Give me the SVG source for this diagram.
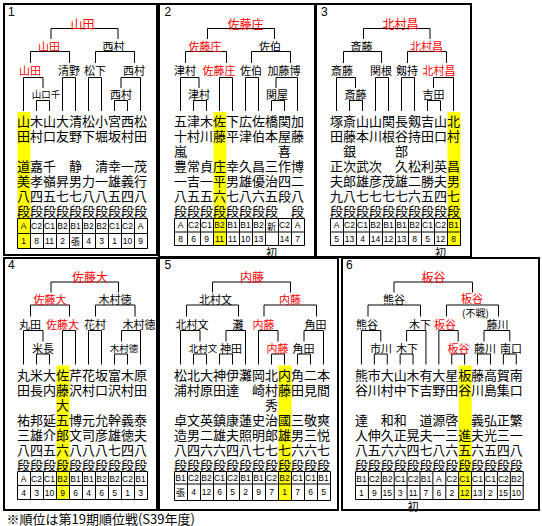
<svg xmlns="http://www.w3.org/2000/svg" width="542" height="526" viewBox="0 0 542 526">
<style>
.pb{fill:none;stroke:#000;stroke-width:2}
.ln{fill:none;stroke:#000;stroke-width:1}
.y{fill:#ff0}
text{font-family:"Noto Sans CJK JP","Noto Sans",sans-serif;text-anchor:middle;dominant-baseline:central;fill:#000}
.c{font-size:13px}
.t{font-size:12px}
.n{font-size:11px}
.s{font-size:9.5px}
.r{fill:#f00}
.k{font-family:"Liberation Sans",Arial,sans-serif;font-size:8.5px}
.kk{font-size:9px}
.nt{font-size:10px}
.num{font-family:"Liberation Sans",Arial,sans-serif;font-size:12px;text-anchor:start;dominant-baseline:auto}
.fn{font-size:13px;text-anchor:start;dominant-baseline:auto}
</style>
<rect width="542" height="526" fill="#fff"/>
<g id="highlights">
<rect class="y" x="17.5" y="112" width="13" height="136.5"/>
<rect class="y" x="213.5" y="112" width="13" height="133.5"/>
<rect class="y" x="447.5" y="112" width="13" height="133.5"/>
<rect class="y" x="56.5" y="365.5" width="13" height="134"/>
<rect class="y" x="278.5" y="365.5" width="13" height="135"/>
<rect class="y" x="458.7" y="365.5" width="12.9" height="134"/>
</g>
<g id="panel-borders">
<rect class="pb" x="4" y="4" width="153" height="251"/>
<rect class="pb" x="159" y="4" width="156" height="253"/>
<rect class="pb" x="316" y="4" width="155" height="253"/>
<rect class="pb" x="4" y="258" width="153" height="252"/>
<rect class="pb" x="159" y="258" width="179" height="252"/>
<rect class="pb" x="342" y="258" width="197" height="252"/>
</g>
<g id="connectors" class="ln">
<path d="M51 39V28.5H118V39 M30.5 63V51.5H69.5V63 M95.5 63V51.5H134.5V63 M23.5 111V77.5H43V88 M62.5 111V77.5H75.5V111 M88.5 111V77.5H101.5V111 M121 88V77.5H140.5V111 M36.5 111V100.5H49.5V111 M114.5 111V100.5H127.5V111"/>
<path d="M207.5 39V28.5H274.5V39 M185.5 63V51.5H226.5V63 M251.5 63V51.5H290.5V63 M180.5 111V77.5H199V88 M219.5 111V77.5H232.5V111 M245.5 111V77.5H258.5V111 M276 88V77.5H297.5V111 M193.5 111V100.5H206.5V111 M271.5 111V100.5H284.5V111"/>
<path d="M363.5 39V28.5H430V39 M343.5 63V51.5H381.5V63 M407.5 63V51.5H446.5V63 M336.5 111V77.5H355.5V88 M375.5 111V77.5H388.5V111 M401.5 111V77.5H414.5V111 M433.5 88V77.5H453.5V111 M349.5 111V100.5H362.5V111 M427.5 111V100.5H440.5V111"/>
<path d="M51 292.5V282H118.5V292.5 M30.5 316.5V305H69.5V316.5 M95.5 316.5V305H135V316.5 M23.5 364.5V330.5H43V341.5 M62.5 364.5V330.5H75.5V364.5 M88.5 364.5V330.5H101.5V364.5 M121.5 341.5V330.5H140.5V364.5 M36.5 364.5V354H49.5V364.5 M114.5 364.5V354H127.5V364.5"/>
<path d="M212.5 292.5V282H290.5V292.5 M186.5 316.5V305H238.5V316.5 M264 316.5V305H316.5V316.5 M180.5 364.5V330.5H200V341.5 M226 341.5V330.5H245.5V364.5 M258.5 364.5V330.5H278V341.5 M304 341.5V330.5H323.5V364.5 M193.5 364.5V354H206.5V364.5 M219.5 364.5V354H232.5V364.5 M271.5 364.5V354H284.5V364.5 M297.5 364.5V354H310.5V364.5"/>
<path d="M394 292.5V282H472.5V292.5 M368 316.5V305H420.5V316.5 M446.5 316.5V305H498.5V316.5 M361.45 364.5V330.5H380.8V341.5 M406.6 341.5V330.5H425.95V364.5 M438.85 364.5V330.5H458.2V341.5 M484 341.5V330.5H509.8V341.5 M374.35 364.5V354H387.25V364.5 M400.15 364.5V354H413.05V364.5 M451.75 364.5V354H464.65V364.5 M477.55 364.5V354H490.45V364.5 M503.35 364.5V354H516.25V364.5"/>
</g>
<g id="panel1">
<text class="num" x="8" y="15.5">1</text>
<g id="p1-final"><text class="t r" x="82.5" y="23">山田</text></g>
<g id="p1-semi-a"><text class="n r" x="49" y="45.5">山田</text></g>
<g id="p1-semi-b"><text class="n" x="113.5" y="45.5">西村</text></g>
<g id="p1-q1"><text class="n r" x="30" y="70">山田</text></g>
<g id="p1-q2"><text class="n" x="69" y="70">清野</text></g>
<g id="p1-q3"><text class="n" x="95" y="70">松下</text></g>
<g id="p1-q4"><text class="n" x="134" y="70">西村</text></g>
<g id="p1-r1"><text class="s" x="46" y="94">山口千</text></g>
<g id="p1-r2"><text class="n" x="121" y="94">西村</text></g>
<g id="p1-c1"><text class="c" x="23.5 23.5 23.5 23.5 23.5 23.5" y="120.5 135.5 165.5 180.5 195.5 210.5">山田道美八段</text></g>
<g id="p1-c2"><text class="c" x="36.5 36.5 36.5 36.5 36.5 36.5" y="120.5 135.5 165.5 180.5 195.5 210.5">木村嘉孝四段</text></g>
<g id="p1-c3"><text class="c" x="49.5 49.5 49.5 49.5 49.5 49.5" y="120.5 135.5 165.5 180.5 195.5 210.5">山口千嶺五段</text></g>
<g id="p1-c4"><text class="c" x="62.5 62.5 62.5 62.5 62.5" y="120.5 135.5 180.5 195.5 210.5">大友昇七段</text></g>
<g id="p1-c5"><text class="c" x="75.5 75.5 75.5 75.5 75.5 75.5" y="120.5 135.5 165.5 180.5 195.5 210.5">清野静男七段</text></g>
<g id="p1-c6"><text class="c" x="88.5 88.5 88.5 88.5 88.5" y="120.5 135.5 180.5 195.5 210.5">松下力八段</text></g>
<g id="p1-c7"><text class="c" x="101.5 101.5 101.5 101.5 101.5 101.5" y="120.5 135.5 165.5 180.5 195.5 210.5">小堀清一八段</text></g>
<g id="p1-c8"><text class="c" x="114.5 114.5 114.5 114.5 114.5 114.5" y="120.5 135.5 165.5 180.5 195.5 210.5">宮坂幸雄五段</text></g>
<g id="p1-c9"><text class="c" x="127.5 127.5 127.5 127.5 127.5 127.5" y="120.5 135.5 165.5 180.5 195.5 210.5">西村一義四段</text></g>
<g id="p1-c10"><text class="c" x="140.5 140.5 140.5 140.5 140.5 140.5" y="120.5 135.5 165.5 180.5 195.5 210.5">松田茂行八段</text></g>
<g id="p1-table">
<path class="ln" d="M17.5 218.5H147.5V248.5H17.5Z M17.5 233.5H147.5 M30.5 218.5V248.5 M43.5 218.5V248.5 M56.5 218.5V248.5 M69.5 218.5V248.5 M82.5 218.5V248.5 M95.5 218.5V248.5 M108.5 218.5V248.5 M121.5 218.5V248.5 M134.5 218.5V248.5"/>
<text class="k" y="226"><tspan x="23.5">A</tspan><tspan x="36.5">C2</tspan><tspan x="49.5">C1</tspan><tspan x="62.5">B2</tspan><tspan x="75.5">B1</tspan><tspan x="88.5">B2</tspan><tspan x="101.5">B2</tspan><tspan x="114.5">C1</tspan><tspan x="127.5">C2</tspan><tspan x="140.5">A</tspan></text>
<text class="k" y="241"><tspan x="23.5">1</tspan><tspan x="36.5">8</tspan><tspan x="49.5">11</tspan><tspan x="62.5">2</tspan><tspan x="88.5">4</tspan><tspan x="101.5">3</tspan><tspan x="114.5">1</tspan><tspan x="127.5">10</tspan><tspan x="140.5">9</tspan></text>
<text class="kk" x="75.5" y="241">張</text>
</g>
</g>
<g id="panel2">
<text class="num" x="164.5" y="15.5">2</text>
<g id="p2-final"><text class="t r" x="245.5" y="23">佐藤庄</text></g>
<g id="p2-semi-a"><text class="n r" x="205" y="45.5">佐藤庄</text></g>
<g id="p2-semi-b"><text class="n" x="270" y="45.5">佐伯</text></g>
<g id="p2-q1"><text class="n" x="185" y="70">津村</text></g>
<g id="p2-q2"><text class="n r" x="219" y="70">佐藤庄</text></g>
<g id="p2-q3"><text class="n" x="251" y="70">佐伯</text></g>
<g id="p2-q4"><text class="n" x="284" y="70">加藤博</text></g>
<g id="p2-r1"><text class="n" x="199" y="94">津村</text></g>
<g id="p2-r2"><text class="n" x="277" y="94">関屋</text></g>
<g id="p2-c1"><text class="c" x="180.5 180.5 180.5 180.5 180.5 180.5 180.5" y="120.5 135.5 150.5 165.5 180.5 195.5 210.5">五十嵐豊一八段</text></g>
<g id="p2-c2"><text class="c" x="193.5 193.5 193.5 193.5 193.5 193.5" y="120.5 135.5 165.5 180.5 195.5 210.5">津村常吉五段</text></g>
<g id="p2-c3"><text class="c" x="206.5 206.5 206.5 206.5 206.5 206.5" y="120.5 135.5 165.5 180.5 195.5 210.5">木川貞一五段</text></g>
<g id="p2-c4"><text class="c" x="219.5 219.5 219.5 219.5 219.5 219.5" y="120.5 135.5 165.5 180.5 195.5 210.5">佐藤庄平六段</text></g>
<g id="p2-c5"><text class="c" x="232.5 232.5 232.5 232.5 232.5 232.5" y="120.5 135.5 165.5 180.5 195.5 210.5">下平幸男七段</text></g>
<g id="p2-c6"><text class="c" x="245.5 245.5 245.5 245.5 245.5 245.5" y="120.5 135.5 165.5 180.5 195.5 210.5">広津久雄八段</text></g>
<g id="p2-c7"><text class="c" x="258.5 258.5 258.5 258.5 258.5 258.5" y="120.5 135.5 165.5 180.5 195.5 210.5">佐伯昌優六段</text></g>
<g id="p2-c8"><text class="c" x="271.5 271.5 271.5 271.5 271.5 271.5" y="120.5 135.5 165.5 180.5 195.5 210.5">橋本三治五段</text></g>
<g id="p2-c9"><text class="c" x="284.5 284.5 284.5 284.5 284.5 284.5 284.5" y="120.5 135.5 150.5 165.5 180.5 195.5 210.5">関屋喜作四段</text></g>
<g id="p2-c10"><text class="c" x="297.5 297.5 297.5 297.5 297.5 297.5" y="120.5 135.5 165.5 180.5 195.5 210.5">加藤博二八段</text></g>
<g id="p2-table">
<path class="ln" d="M174.5 218.5H304.5V245.5H174.5Z M174.5 232H304.5 M187.5 218.5V245.5 M200.5 218.5V245.5 M213.5 218.5V245.5 M226.5 218.5V245.5 M239.5 218.5V245.5 M252.5 218.5V245.5 M265.5 218.5V245.5 M278.5 218.5V245.5 M291.5 218.5V245.5"/>
<text class="k" y="225.3"><tspan x="180.5">A</tspan><tspan x="193.5">C2</tspan><tspan x="206.5">C1</tspan><tspan x="219.5">B2</tspan><tspan x="232.5">B1</tspan><tspan x="245.5">B1</tspan><tspan x="258.5">B2</tspan><tspan x="284.5">C2</tspan><tspan x="297.5">A</tspan></text>
<text class="kk" x="271.5" y="226.2">新</text>
<text class="k" y="238.8"><tspan x="180.5">8</tspan><tspan x="193.5">6</tspan><tspan x="206.5">9</tspan><tspan x="219.5">11</tspan><tspan x="232.5">11</tspan><tspan x="245.5">10</tspan><tspan x="258.5">13</tspan><tspan x="284.5">14</tspan><tspan x="297.5">7</tspan></text>
</g>
<g id="p2-note"><text class="n" x="271.5" y="251.5">初</text></g>
</g>
<g id="panel3">
<text class="num" x="321" y="15.5">3</text>
<g id="p3-final"><text class="t r" x="400.5" y="23">北村昌</text></g>
<g id="p3-semi-a"><text class="n" x="361.5" y="45.5">斎藤</text></g>
<g id="p3-semi-b"><text class="n r" x="426.5" y="45.5">北村昌</text></g>
<g id="p3-q1"><text class="n" x="342" y="70">斎藤</text></g>
<g id="p3-q2"><text class="n" x="381" y="70">関根</text></g>
<g id="p3-q3"><text class="n" x="407" y="70">剱持</text></g>
<g id="p3-q4"><text class="n r" x="439" y="70">北村昌</text></g>
<g id="p3-r1"><text class="n" x="355.5" y="94">斎藤</text></g>
<g id="p3-r2"><text class="n" x="433.5" y="94">吉田</text></g>
<g id="p3-c1"><text class="c" x="336.5 336.5 336.5 336.5 336.5 336.5" y="120.5 135.5 165.5 180.5 195.5 210.5">塚田正夫九段</text></g>
<g id="p3-c2"><text class="c" x="349.5 349.5 349.5 349.5 349.5 349.5 349.5" y="120.5 135.5 150.5 165.5 180.5 195.5 210.5">斎藤銀次郎八段</text></g>
<g id="p3-c3"><text class="c" x="362.5 362.5 362.5 362.5 362.5 362.5" y="120.5 135.5 165.5 180.5 195.5 210.5">山本武雄七段</text></g>
<g id="p3-c4"><text class="c" x="375.5 375.5 375.5 375.5 375.5 375.5" y="120.5 135.5 165.5 180.5 195.5 210.5">山川次彦七段</text></g>
<g id="p3-c5"><text class="c" x="388.5 388.5 388.5 388.5 388.5" y="120.5 135.5 180.5 195.5 210.5">関根茂七段</text></g>
<g id="p3-c6"><text class="c" x="401.5 401.5 401.5 401.5 401.5 401.5 401.5" y="120.5 135.5 150.5 165.5 180.5 195.5 210.5">長谷部久雄七段</text></g>
<g id="p3-c7"><text class="c" x="414.5 414.5 414.5 414.5 414.5 414.5" y="120.5 135.5 165.5 180.5 195.5 210.5">剱持松二六段</text></g>
<g id="p3-c8"><text class="c" x="427.5 427.5 427.5 427.5 427.5 427.5" y="120.5 135.5 165.5 180.5 195.5 210.5">吉田利勝五段</text></g>
<g id="p3-c9"><text class="c" x="440.5 440.5 440.5 440.5 440.5 440.5" y="120.5 135.5 165.5 180.5 195.5 210.5">山口英夫四段</text></g>
<g id="p3-c10"><text class="c" x="453.5 453.5 453.5 453.5 453.5 453.5" y="120.5 135.5 165.5 180.5 195.5 210.5">北村昌男七段</text></g>
<g id="p3-table">
<path class="ln" d="M330.5 218.5H460.5V245.5H330.5Z M330.5 232H460.5 M343.5 218.5V245.5 M356.5 218.5V245.5 M369.5 218.5V245.5 M382.5 218.5V245.5 M395.5 218.5V245.5 M408.5 218.5V245.5 M421.5 218.5V245.5 M434.5 218.5V245.5 M447.5 218.5V245.5"/>
<text class="k" y="225.3"><tspan x="336.5">A</tspan><tspan x="349.5">C2</tspan><tspan x="362.5">C1</tspan><tspan x="375.5">B2</tspan><tspan x="388.5">B1</tspan><tspan x="401.5">B1</tspan><tspan x="414.5">B2</tspan><tspan x="427.5">C1</tspan><tspan x="440.5">C2</tspan><tspan x="453.5">B1</tspan></text>
<text class="k" y="238.8"><tspan x="336.5">5</tspan><tspan x="349.5">13</tspan><tspan x="362.5">4</tspan><tspan x="375.5">14</tspan><tspan x="388.5">12</tspan><tspan x="401.5">13</tspan><tspan x="414.5">8</tspan><tspan x="427.5">5</tspan><tspan x="440.5">12</tspan><tspan x="453.5">8</tspan></text>
</g>
<g id="p3-note"><text class="n" x="440.5" y="251.5">初</text></g>
</g>
<g id="panel4">
<text class="num" x="8" y="268.5">4</text>
<g id="p4-final"><text class="t r" x="90" y="276.5">佐藤大</text></g>
<g id="p4-semi-a"><text class="n r" x="50" y="299">佐藤大</text></g>
<g id="p4-semi-b"><text class="n" x="115" y="299">木村徳</text></g>
<g id="p4-q1"><text class="n" x="30" y="323.5">丸田</text></g>
<g id="p4-q2"><text class="n r" x="62.5" y="323.5">佐藤大</text></g>
<g id="p4-q3"><text class="n" x="95" y="323.5">花村</text></g>
<g id="p4-q4"><text class="n" x="139" y="323.5">木村徳</text></g>
<g id="p4-r1"><text class="n" x="43" y="347.5">米長</text></g>
<g id="p4-r2"><text class="s" x="124" y="347.5">木村徳</text></g>
<g id="p4-c1"><text class="c" x="23.5 23.5 23.5 23.5 23.5 23.5" y="374 389 419 434 449 464">丸田祐三八段</text></g>
<g id="p4-c2"><text class="c" x="36.5 36.5 36.5 36.5 36.5 36.5" y="374 389 419 434 449 464">米長邦雄四段</text></g>
<g id="p4-c3"><text class="c" x="49.5 49.5 49.5 49.5 49.5 49.5" y="374 389 419 434 449 464">大内延介五段</text></g>
<g id="p4-c4"><text class="c" x="62.5 62.5 62.5 62.5 62.5 62.5 62.5" y="374 389 404 419 434 449 464">佐藤大五郎六段</text></g>
<g id="p4-c5"><text class="c" x="75.5 75.5 75.5 75.5 75.5 75.5" y="374 389 419 434 449 464">芹沢博文八段</text></g>
<g id="p4-c6"><text class="c" x="88.5 88.5 88.5 88.5 88.5 88.5" y="374 389 419 434 449 464">花村元司八段</text></g>
<g id="p4-c7"><text class="c" x="101.5 101.5 101.5 101.5 101.5 101.5" y="374 389 419 434 449 464">坂口允彦八段</text></g>
<g id="p4-c8"><text class="c" x="114.5 114.5 114.5 114.5 114.5 114.5" y="374 389 419 434 449 464">富沢幹雄七段</text></g>
<g id="p4-c9"><text class="c" x="127.5 127.5 127.5 127.5 127.5 127.5" y="374 389 419 434 449 464">木村義徳四段</text></g>
<g id="p4-c10"><text class="c" x="140.5 140.5 140.5 140.5 140.5 140.5" y="374 389 419 434 449 464">原田泰夫八段</text></g>
<g id="p4-table">
<path class="ln" d="M17.5 471.5H147.5V499.5H17.5Z M17.5 485.5H147.5 M30.5 471.5V499.5 M43.5 471.5V499.5 M56.5 471.5V499.5 M69.5 471.5V499.5 M82.5 471.5V499.5 M95.5 471.5V499.5 M108.5 471.5V499.5 M121.5 471.5V499.5 M134.5 471.5V499.5"/>
<text class="k" y="478.5"><tspan x="23.5">A</tspan><tspan x="36.5">C2</tspan><tspan x="49.5">C1</tspan><tspan x="62.5">B2</tspan><tspan x="75.5">B1</tspan><tspan x="88.5">B1</tspan><tspan x="101.5">B2</tspan><tspan x="114.5">B2</tspan><tspan x="127.5">C2</tspan><tspan x="140.5">B1</tspan></text>
<text class="k" y="492.5"><tspan x="23.5">4</tspan><tspan x="36.5">3</tspan><tspan x="49.5">10</tspan><tspan x="62.5">9</tspan><tspan x="75.5">6</tspan><tspan x="88.5">4</tspan><tspan x="101.5">6</tspan><tspan x="114.5">5</tspan><tspan x="127.5">1</tspan><tspan x="140.5">3</tspan></text>
</g>
</g>
<g id="panel5">
<text class="num" x="164.5" y="268.5">5</text>
<g id="p5-final"><text class="t r" x="252" y="276.5">内藤</text></g>
<g id="p5-semi-a"><text class="n" x="215.5" y="299">北村文</text></g>
<g id="p5-semi-b"><text class="n r" x="290" y="299">内藤</text></g>
<g id="p5-q1"><text class="n" x="192" y="323.5">北村文</text></g>
<g id="p5-q2"><text class="n" x="238" y="323.5">灘</text></g>
<g id="p5-q3"><text class="n r" x="263.5" y="323.5">内藤</text></g>
<g id="p5-q4"><text class="n" x="315.5" y="323.5">角田</text></g>
<g id="p5-r1"><text class="s" x="203" y="347.5">北村文</text></g>
<g id="p5-r2"><text class="n" x="231" y="347.5">神田</text></g>
<g id="p5-r3"><text class="n r" x="277.5" y="347.5">内藤</text></g>
<g id="p5-r4"><text class="n" x="303.5" y="347.5">角田</text></g>
<g id="p5-c1"><text class="c" x="180.5 180.5 180.5 180.5 180.5 180.5" y="374 389 419 434 449 464">松浦卓造八段</text></g>
<g id="p5-c2"><text class="c" x="193.5 193.5 193.5 193.5 193.5 193.5" y="374 389 419 434 449 464">北村文男四段</text></g>
<g id="p5-c3"><text class="c" x="206.5 206.5 206.5 206.5 206.5 206.5" y="374 389 419 434 449 464">大原英二六段</text></g>
<g id="p5-c4"><text class="c" x="219.5 219.5 219.5 219.5 219.5 219.5" y="374 389 419 434 449 464">神田鎮雄六段</text></g>
<g id="p5-c5"><text class="c" x="232.5 232.5 232.5 232.5 232.5 232.5" y="374 389 419 434 449 464">伊達康夫四段</text></g>
<g id="p5-c6"><text class="c" x="245.5 245.5 245.5 245.5 245.5" y="374 419 434 449 464">灘蓮照八段</text></g>
<g id="p5-c7"><text class="c" x="258.5 258.5 258.5 258.5 258.5 258.5" y="374 389 419 434 449 464">岡崎史明七段</text></g>
<g id="p5-c8"><text class="c" x="271.5 271.5 271.5 271.5 271.5 271.5 271.5" y="374 389 404 419 434 449 464">北村秀治郎七段</text></g>
<g id="p5-c9"><text class="c" x="284.5 284.5 284.5 284.5 284.5 284.5" y="374 389 419 434 449 464">内藤國雄七段</text></g>
<g id="p5-c10"><text class="c" x="297.5 297.5 297.5 297.5 297.5 297.5" y="374 389 419 434 449 464">角田三男六段</text></g>
<g id="p5-c11"><text class="c" x="310.5 310.5 310.5 310.5 310.5 310.5" y="374 389 419 434 449 464">二見敬三六段</text></g>
<g id="p5-c12"><text class="c" x="323.5 323.5 323.5 323.5 323.5 323.5" y="374 389 419 434 449 464">本間爽悦七段</text></g>
<g id="p5-table">
<path class="ln" d="M174.5 471.5H330.5V500.5H174.5Z M174.5 484H330.5 M187.5 471.5V500.5 M200.5 471.5V500.5 M213.5 471.5V500.5 M226.5 471.5V500.5 M239.5 471.5V500.5 M252.5 471.5V500.5 M265.5 471.5V500.5 M278.5 471.5V500.5 M291.5 471.5V500.5 M304.5 471.5V500.5 M317.5 471.5V500.5"/>
<text class="k" y="478"><tspan x="180.5">B1</tspan><tspan x="193.5">C2</tspan><tspan x="206.5">B2</tspan><tspan x="219.5">C1</tspan><tspan x="232.5">C2</tspan><tspan x="245.5">B1</tspan><tspan x="258.5">B1</tspan><tspan x="271.5">C2</tspan><tspan x="284.5">B2</tspan><tspan x="297.5">C1</tspan><tspan x="310.5">C1</tspan><tspan x="323.5">B1</tspan></text>
<text class="kk" x="180.5" y="492.3">張</text>
<text class="k" y="492.3"><tspan x="193.5">4</tspan><tspan x="206.5">12</tspan><tspan x="219.5">6</tspan><tspan x="232.5">5</tspan><tspan x="245.5">2</tspan><tspan x="258.5">9</tspan><tspan x="271.5">7</tspan><tspan x="284.5">1</tspan><tspan x="297.5">7</tspan><tspan x="310.5">6</tspan><tspan x="323.5">5</tspan></text>
</g>
</g>
<g id="panel6">
<text class="num" x="346" y="268.5">6</text>
<g id="p6-final"><text class="t r" x="433.5" y="276.5">板谷</text></g>
<g id="p6-semi-a"><text class="n" x="394" y="299">熊谷</text></g>
<g id="p6-semi-b"><text class="n r" x="472" y="297.5">板谷</text></g>
<g id="p6-semi-note"><text class="nt" x="475.5" y="312">(不戦)</text></g>
<g id="p6-q1"><text class="n" x="367" y="323.5">熊谷</text></g>
<g id="p6-q2"><text class="n" x="420" y="323.5">木下</text></g>
<g id="p6-q3"><text class="n r" x="445" y="323.5">板谷</text></g>
<g id="p6-q4"><text class="n" x="497.5" y="323.5">藤川</text></g>
<g id="p6-r1"><text class="n" x="381" y="347.5">市川</text></g>
<g id="p6-r2"><text class="n" x="407" y="347.5">木下</text></g>
<g id="p6-r3"><text class="n r" x="458.5" y="347.5">板谷</text></g>
<g id="p6-r4"><text class="n" x="485" y="347.5">藤川</text></g>
<g id="p6-r5"><text class="n" x="511" y="347.5">南口</text></g>
<g id="p6-c1"><text class="c" x="361.45 361.45 361.45 361.45 361.45 361.45" y="374 389 419 434 449 464">熊谷達人八段</text></g>
<g id="p6-c2"><text class="c" x="374.35 374.35 374.35 374.35 374.35" y="374 389 434 449 464">市川伸五段</text></g>
<g id="p6-c3"><text class="c" x="387.25 387.25 387.25 387.25 387.25 387.25" y="374 389 419 434 449 464">大村和久六段</text></g>
<g id="p6-c4"><text class="c" x="400.15 400.15 400.15 400.15 400.15 400.15" y="374 389 419 434 449 464">山中和正六段</text></g>
<g id="p6-c5"><text class="c" x="413.05 413.05 413.05 413.05 413.05" y="374 389 434 449 464">木下晃四段</text></g>
<g id="p6-c6"><text class="c" x="425.95 425.95 425.95 425.95 425.95 425.95" y="374 389 419 434 449 464">有吉道夫七段</text></g>
<g id="p6-c7"><text class="c" x="438.85 438.85 438.85 438.85 438.85 438.85" y="374 389 419 434 449 464">大野源一八段</text></g>
<g id="p6-c8"><text class="c" x="451.75 451.75 451.75 451.75 451.75 451.75" y="374 389 419 434 449 464">星田啓三六段</text></g>
<g id="p6-c9"><text class="c" x="464.65 464.65 464.65 464.65 464.65" y="374 389 434 449 464">板谷進五段</text></g>
<g id="p6-c10"><text class="c" x="477.55 477.55 477.55 477.55 477.55 477.55" y="374 389 419 434 449 464">藤川義夫六段</text></g>
<g id="p6-c11"><text class="c" x="490.45 490.45 490.45 490.45 490.45 490.45" y="374 389 419 434 449 464">高島弘光五段</text></g>
<g id="p6-c12"><text class="c" x="503.35 503.35 503.35 503.35 503.35 503.35" y="374 389 419 434 449 464">賀集正三四段</text></g>
<g id="p6-c13"><text class="c" x="516.25 516.25 516.25 516.25 516.25 516.25" y="374 389 419 434 449 464">南口繁一八段</text></g>
<g id="p6-table">
<path class="ln" d="M355.5 471.5H523.2V499.5H355.5Z M355.5 485.5H523.2 M368.4 471.5V499.5 M381.3 471.5V499.5 M394.2 471.5V499.5 M407.1 471.5V499.5 M420 471.5V499.5 M432.9 471.5V499.5 M445.8 471.5V499.5 M458.7 471.5V499.5 M471.6 471.5V499.5 M484.5 471.5V499.5 M497.4 471.5V499.5 M510.3 471.5V499.5"/>
<text class="k" y="478.5"><tspan x="361.45">B1</tspan><tspan x="374.35">C2</tspan><tspan x="387.25">B2</tspan><tspan x="400.15">C1</tspan><tspan x="413.05">C2</tspan><tspan x="425.95">B1</tspan><tspan x="438.85">A</tspan><tspan x="451.75">C2</tspan><tspan x="464.65">C1</tspan><tspan x="477.55">C1</tspan><tspan x="490.45">C1</tspan><tspan x="503.35">C2</tspan><tspan x="516.25">B2</tspan></text>
<text class="k" y="492.5"><tspan x="361.45">1</tspan><tspan x="374.35">9</tspan><tspan x="387.25">15</tspan><tspan x="400.15">3</tspan><tspan x="413.05">11</tspan><tspan x="425.95">7</tspan><tspan x="438.85">6</tspan><tspan x="451.75">2</tspan><tspan x="464.65">12</tspan><tspan x="477.55">13</tspan><tspan x="490.45">2</tspan><tspan x="503.35">15</tspan><tspan x="516.25">10</tspan></text>
</g>
<g id="p6-note"><text class="n" x="413.05" y="505.5">初</text></g>
</g>
<g id="footnote"><text class="fn" x="6.5" y="523.5">※順位は第19期順位戦(S39年度)</text></g>
</svg>
